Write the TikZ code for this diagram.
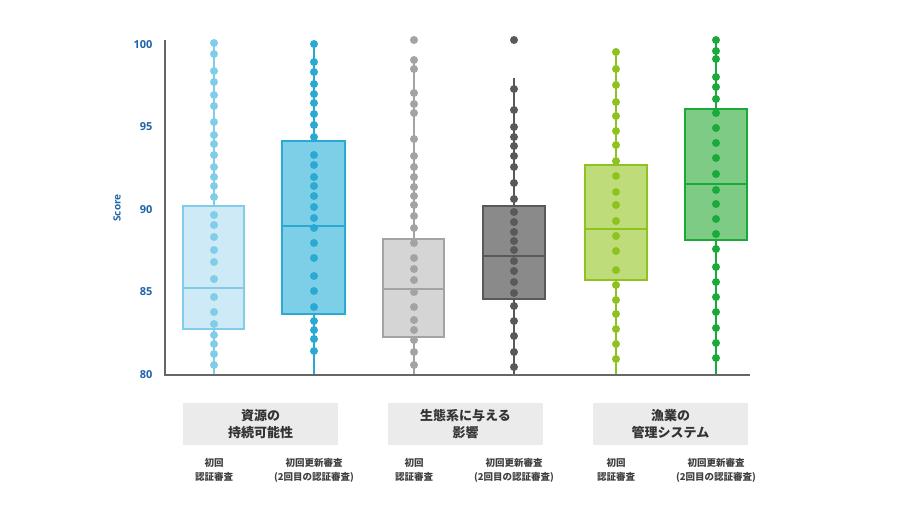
\documentclass[tikz,border=0pt]{standalone}
\usepackage{fontspec}
\newfontfamily\jp{Noto Sans CJK JP}
\setmainfont{Open Sans}
\definecolor{lblue}{HTML}{CDEAF6}
\definecolor{lbluel}{HTML}{80CDEA}
\definecolor{mblue}{HTML}{7DCFE8}
\definecolor{mbluel}{HTML}{2AAAD3}
\definecolor{lgray}{HTML}{D5D5D5}
\definecolor{lgrayl}{HTML}{A3A3A3}
\definecolor{dgray}{HTML}{8A8A8A}
\definecolor{dgrayl}{HTML}{595959}
\definecolor{lgreen}{HTML}{BEDD7A}
\definecolor{lgreenl}{HTML}{8DC21F}
\definecolor{mgreen}{HTML}{7DCB85}
\definecolor{mgreenl}{HTML}{1AAA3A}
\definecolor{axisblue}{HTML}{1F63A8}
\tikzset{
  catbox/.style={fill=black!8,minimum width=155pt,minimum height=42pt,align=center,font=\jp\fontsize{13}{17}\selectfont\bfseries,text=black!80},
  sublabel/.style={align=center,font=\jp\fontsize{9.5}{14}\selectfont\bfseries,text=black!75},
  tick/.style={anchor=east,font=\fontsize{11}{12}\selectfont\bfseries,text=axisblue}
}
% x, left, right, top, bottom, median, whisker top, fill, line, dots
\newcommand{\scorebox}[9]{%
  \draw[#9,line width=1.6pt] (#1,#7) -- (#1,375);
  \draw[#9,line width=1.6pt,fill=#8] (#2,#4) rectangle (#3,#5);
  \draw[#9,line width=1.6pt] (#2,#6) -- (#3,#6);
}
\begin{document}
\begin{tikzpicture}[x=1pt,y=-1pt]
  \useasboundingbox (0,0) rectangle (912,513);
  % boxes
  \scorebox{214}{183}{244}{206}{329}{288}{42}{lblue}{lbluel}
  \scorebox{314}{282}{345}{141}{314}{226}{42}{mblue}{mbluel}
  \scorebox{414}{383}{444}{239}{337}{289}{60}{lgray}{lgrayl}
  \scorebox{514}{483}{545}{206}{299}{256}{78}{dgray}{dgrayl}
  \scorebox{616}{585}{647}{165}{280}{229}{52}{lgreen}{lgreenl}
  \scorebox{716}{685}{747}{109}{240}{184}{40}{mgreen}{mgreenl}
  % dots
  \foreach \y in {43,54,71,82,95,106,122,135,144,155,167,177,186,197,215,225,237,250,262,279,297,312,324,335,344,354,365}
    \fill[lbluel] (214,\y) circle (4pt);
  \foreach \y in {44,62,72,84,94,103,114,125,137,155,165,177,186,196,207,218,228,243,258,276,291,307,321,330,339,351}
    \fill[mbluel] (314,\y) circle (4pt);
  \foreach \y in {40,60,69,93,104,113,139,156,167,177,187,196,205,216,228,243,258,269,280,292,307,320,330,340,352,365}
    \fill[lgrayl] (414,\y) circle (4pt);
  \foreach \y in {40,89,110,127,137,146,156,167,183,199,212,222,232,241,250,261,271,282,293,306,321,336,352,367}
    \fill[dgrayl] (514,\y) circle (4pt);
  \foreach \y in {52,69,85,102,116,131,145,161,176,192,205,221,236,251,270,285,300,314,329,344,359}
    \fill[lgreenl] (616,\y) circle (4pt);
  \foreach \y in {40,51,59,77,87,99,113,128,143,158,174,190,204,219,234,249,267,282,297,312,328,343,358}
    \fill[mgreenl] (716,\y) circle (4pt);
  % axes
  \draw[black!60,line width=1.6pt] (165,40) -- (165,375) -- (750,375);
  \node[tick] (t80) at (156,375) {80};
  \node[tick] (t85) at (156,292) {85};
  \node[tick] (t90) at (156,210) {90};
  \node[tick] (t95) at (156,127) {95};
  \node[tick] (t100) at (156,45) {100};
  \node[rotate=90,font=\fontsize{10}{12}\selectfont\bfseries,text=axisblue] (score) at (117,208) {Score};
  % categories
  \node[catbox] (c1) at (260.5,424) {資源の\\持続可能性};
  \node[catbox] (c2) at (465.5,424) {生態系に与える\\影響};
  \node[catbox] (c3) at (670.5,424) {漁業の\\管理システム};
  \foreach \x in {214,414,616}
    \node[sublabel] (f\x) at (\x,470) {初回\\認証審査};
  \foreach \x in {314,514,716}
    \node[sublabel] (r\x) at (\x,470) {初回更新審査\\(2回目の認証審査)};
\end{tikzpicture}
\end{document}
